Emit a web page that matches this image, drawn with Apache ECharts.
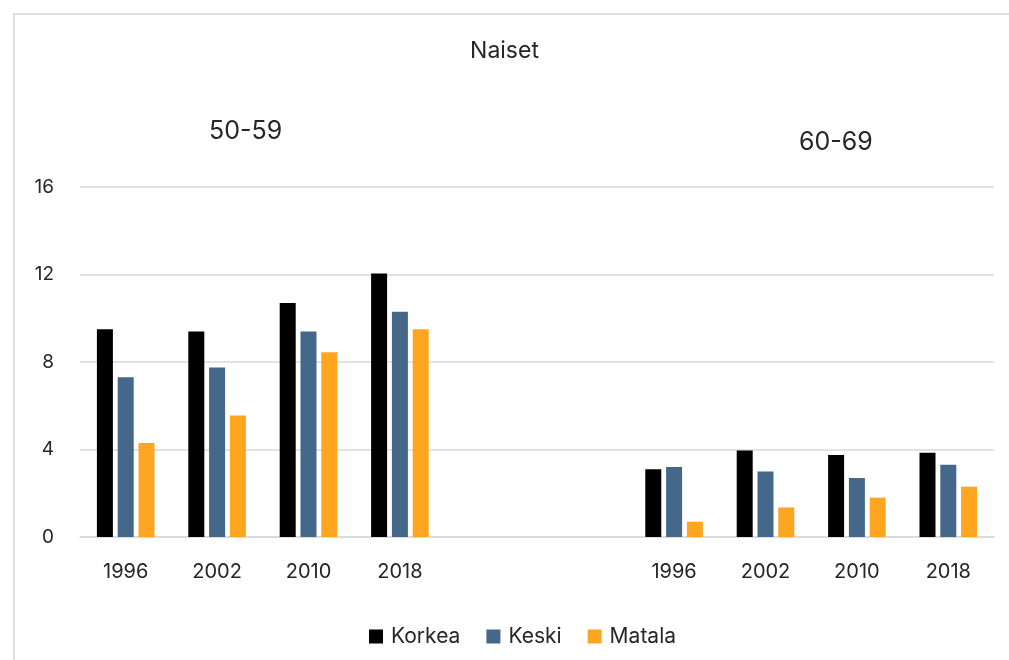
<!DOCTYPE html>
<html>
<head>
<meta charset="utf-8">
<script src="https://cdn.jsdelivr.net/npm/echarts@6/dist/echarts.min.js"></script>
<style>
  body { margin: 0; background: #fff; }
  #wrap { position: relative; width: 1009px; height: 660px; }
  #reportsChart { width: 1009px; height: 660px; }
  #frame {
    position: absolute; left: 13px; top: 13px; right: 0; bottom: 0;
    border-top: 2px solid #dedede; border-left: 2px solid #dedede;
    pointer-events: none;
  }
</style>
</head>
<body>
<div id="wrap">
  <div id="reportsChart"></div>
  <div id="frame"></div>
</div>
<script>
  const years = ["1996", "2002", "2010", "2018", "", "", "1996", "2002", "2010", "2018"];
  const ageGroups = ["50-59", "60-69"];
  const korkea = [9.5, 9.4, 10.7, 12.05, null, null, 3.1, 3.95, 3.75, 3.85];
  const keski = [7.3, 7.75, 9.4, 10.3, null, null, 3.2, 3.0, 2.7, 3.3];
  const matala = [4.3, 5.55, 8.45, 9.5, null, null, 0.7, 1.35, 1.8, 2.3];
  const yTicks = [0, 4, 8, 12, 16];

  const font = "Inter";
  const textColor = "#262626";

  const chartDom = document.getElementById("reportsChart");
  const myChart = echarts.init(chartDom);

  const option = {
    animation: false,
    textStyle: { fontFamily: font },
    title: [
      {
        text: "Naiset", left: "center", top: 35,
        textStyle: { fontFamily: font, fontSize: 23, fontWeight: "normal", color: textColor },
      },
      {
        text: ageGroups[0], left: 204, top: 114,
        textStyle: { fontFamily: font, fontSize: 25, fontWeight: "normal", color: textColor },
      },
      {
        text: ageGroups[1], left: 794, top: 125,
        textStyle: { fontFamily: font, fontSize: 25, fontWeight: "normal", color: textColor },
      },
    ],
    color: ["#000000", "#44678a", "#ffa520"],
    legend: {
      top: 621,
      left: 364,
      itemWidth: 14,
      itemHeight: 14,
      itemGap: 26,
      icon: "rect",
      textStyle: { fontFamily: font, fontSize: 21, color: textColor, padding: [0, 0, 0, 3] },
      data: ["Korkea", "Keski", "Matala"],
    },
    grid: { left: 80, right: 15, top: 187, bottom: 123 },
    xAxis: {
      type: "category",
      data: years,
      axisTick: { show: false },
      axisLine: { lineStyle: { color: "#d9d9d9", width: 1.5 } },
      axisLabel: { fontFamily: font, fontSize: 20, color: textColor, margin: 25, interval: 0 },
    },
    yAxis: {
      type: "value",
      min: yTicks[0],
      max: yTicks[yTicks.length - 1],
      interval: 4,
      axisLine: { show: false },
      axisTick: { show: false },
      splitLine: { lineStyle: { color: "#d9d9d9", width: 1.5 } },
      axisLabel: { fontFamily: font, fontSize: 19, color: textColor, margin: 26 },
    },
    series: [
      { name: "Korkea", type: "bar", data: korkea, barWidth: 16, barGap: "30%" },
      { name: "Keski", type: "bar", data: keski, barWidth: 16, barGap: "30%" },
      { name: "Matala", type: "bar", data: matala, barWidth: 16, barGap: "30%" },
    ],
  };

  myChart.setOption(option);
</script>
</body>
</html>
